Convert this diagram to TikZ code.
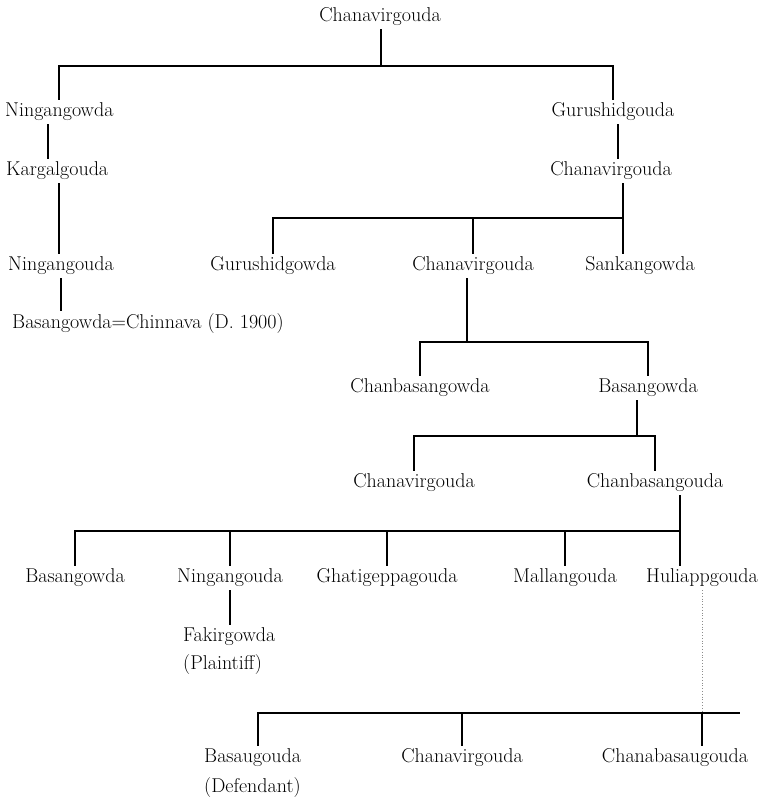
\documentclass[tikz,border=0pt]{standalone}
\usepackage{tikz}

\begin{document}
\begin{tikzpicture}[x=1pt,y=-1pt,
    person/.style={inner sep=3pt, font=\fontsize{20}{24}\selectfont},
    kin/.style={line width=1.1pt},
    faint/.style={line width=0.8pt, dotted, black!45}]
            \useasboundingbox (0,0) rectangle (773,801);

            % First generations
            \node[person] (c0) at (380,17) {Chanavirgouda};
            \node[person, anchor=west] (ning1) at (2,112) {Ningangowda};
            \node[person] (guru1) at (613,112) {Gurushidgouda};
            \node[person, anchor=west] (karg) at (3,171) {Kargalgouda};
            \node[person] (chv1) at (611,171) {Chanavirgouda};
            \node[person, anchor=west] (ning2) at (5,266) {Ningangouda};
            \node[person] (guru2) at (273,266) {Gurushidgowda};
            \node[person] (chv2) at (473,266) {Chanavirgouda};
            \node[person] (sank) at (640,266) {Sankangowda};
            \node[person, anchor=west] (basch) at (9,324) {Basangowda=Chinnava (D.\ 1900)};

            % Middle generations
            \node[person] (chb1) at (420,388) {Chanbasangowda};
            \node[person] (bas1) at (648,388) {Basangowda};
            \node[person] (chv3) at (414,483) {Chanavirgouda};
            \node[person] (chb2) at (655,483) {Chanbasangouda};

            % Sons of Chanbasangouda
            \node[person] (bas2) at (75,578) {Basangowda};
            \node[person] (ning3) at (230,578) {Ningangouda};
            \node[person] (ghat) at (387,578) {Ghatigeppagouda};
            \node[person] (mall) at (565,578) {Mallangouda};
            \node[person] (huli) at (702,578) {Huliappgouda};
            \node[person, anchor=west] (fakir) at (180,637) {Fakirgowda};
            \node[person, anchor=west] (plain) at (180,665) {(Plaintiff)};

            % Last generation
            \node[person, anchor=west] (basa) at (201,758) {Basaugouda};
            \node[person] (chv4) at (462,758) {Chanavirgouda};
            \node[person] (chanab) at (675,758) {Chanabasaugouda};
            \node[person, anchor=west] (defe) at (201,787) {(Defendant)};

            % Bars and columns
            \coordinate (b0) at (381,66);
            \coordinate (b4) at (623,218);
            \coordinate (b6) at (467,342);
            \coordinate (b7) at (637,436);
            \coordinate (b8) at (680,531);
            \coordinate (b10) at (702,713);
            \coordinate (b10e) at (740,713);
            \coordinate (colA) at (48,0);
            \coordinate (colB) at (59,0);
            \coordinate (colC) at (618,0);
            \coordinate (colD) at (258,0);

            \draw[kin] (c0.south -| b0) -- (b0);
            \draw[kin] (ning1.north -| colB) |- (b0) -| (guru1.north);
            \draw[kin] (ning1.south -| colA) -- (karg.north -| colA);
            \draw[kin] (guru1.south -| colC) -- (chv1.north -| colC);
            \draw[kin] (karg.south -| colB) -- (ning2.north -| colB);

            \draw[kin] (chv1.south -| b4) -- (sank.north -| b4);
            \draw[kin] (guru2.north) |- (b4);
            \draw[kin] (chv2.north) -- (chv2.north |- b4);
            \draw[kin] (ning2.south) -- (ning2.south |- basch.north);

            \draw[kin] (chv2.south -| b6) -- (b6);
            \draw[kin] (chb1.north) |- (b6) -| (bas1.north);
            \draw[kin] (bas1.south -| b7) -- (b7);
            \draw[kin] (chv3.north) |- (b7) -| (chb2.north);

            \draw[kin] (chb2.south -| b8) -- (huli.north -| b8);
            \draw[kin] (bas2.north) |- (b8);
            \foreach \k in {ning3,ghat,mall}
              \draw[kin] (\k.north) -- (\k.north |- b8);
            \draw[kin] (ning3.south) -- (ning3.south |- fakir.north);

            \draw[faint] (huli.south) -- (b10);
            \draw[kin] (basa.north -| colD) |- (b10e);
            \draw[kin] (b10) -- (chanab.north -| b10);
            \draw[kin] (chv4.north) -- (chv4.north |- b10);
          \end{tikzpicture}
\end{document}
